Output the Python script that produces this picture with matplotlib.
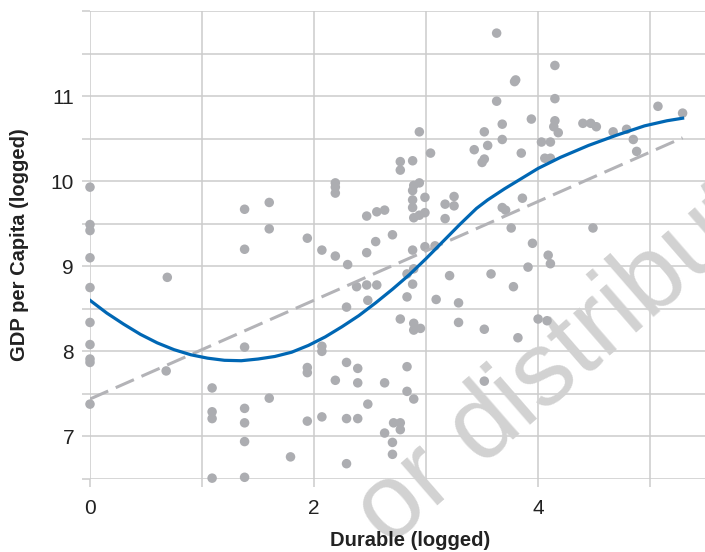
import matplotlib
matplotlib.use("Agg")
import matplotlib.pyplot as plt
import numpy as np

plt.rcParams['font.family'] = ['Liberation Sans', 'DejaVu Sans']

# Scatter data: Durable (logged) vs GDP per Capita (logged)
durable = [
    0, 0, 0, 0, 0, 0, 0, 0, 0, 0,
    0.69, 0.68,
    1.09, 1.09, 1.09, 1.09,
    1.38, 1.38, 1.38, 1.38, 1.38, 1.38, 1.38,
    1.60, 1.60, 1.60,
    1.79,
    1.94, 1.94, 1.94, 1.94,
    2.07, 2.07, 2.07, 2.07,
    2.19, 2.19, 2.19, 2.19, 2.19,
    2.30, 2.29, 2.29, 2.29, 2.29,
    2.38, 2.39, 2.39, 2.39,
    2.47, 2.47, 2.47, 2.48, 2.48,
    2.56, 2.55, 2.56,
    2.63, 2.63, 2.63,
    2.70, 2.70, 2.70,
    2.71,
    2.77, 2.77, 2.77, 2.77, 2.77,
    2.83, 2.83, 2.83, 2.83,
    2.88, 2.89, 2.88, 2.88, 2.88, 2.89, 2.88, 2.89, 2.88, 2.89, 2.89, 2.89,
    2.94, 2.94, 2.94, 2.95,
    2.99, 2.99, 2.99,
    3.04,
    3.08, 3.09,
    3.17, 3.17,
    3.21,
    3.25, 3.25,
    3.29, 3.29,
    3.43,
    3.50, 3.52,
    3.52, 3.55,
    3.52, 3.52,
    3.58,
    3.63, 3.63,
    3.68, 3.68, 3.68, 3.71,
    3.76, 3.78,
    3.79, 3.80,
    3.82,
    3.85, 3.86,
    3.91,
    3.94,
    3.95,
    4.00, 4.08,
    4.03, 4.11, 4.06, 4.11,
    4.09, 4.11,
    4.15, 4.15, 4.15, 4.14, 4.18,
    4.40, 4.47, 4.52,
    4.49,
    4.67, 4.79, 4.85, 4.88,
    5.07, 5.29,
]
gdp = [
    9.93, 9.49, 9.42, 9.10, 8.75, 8.34, 8.08, 7.91, 7.87, 7.38,
    8.87, 7.77,
    7.57, 7.29, 7.21, 6.51,
    9.67, 9.20, 8.05, 7.33, 7.16, 6.94, 6.52,
    9.75, 9.44, 7.45,
    6.76,
    9.33, 7.81, 7.75, 7.18,
    9.19, 8.06, 8.00, 7.23,
    9.98, 9.93, 9.86, 9.12, 7.66,
    9.02, 8.52, 7.87, 7.21, 6.68,
    8.76, 7.80, 7.63, 7.21,
    9.59, 9.16, 8.78, 8.60, 7.38,
    9.64, 9.29, 8.78,
    9.66, 7.63, 7.04,
    9.37, 6.93, 6.79,
    7.16,
    10.23, 10.13, 8.38, 7.16, 7.08,
    8.91, 8.64, 7.82, 7.53,
    10.24, 9.95, 9.89, 9.78, 9.69, 9.57, 9.19, 8.97, 8.79, 8.33, 8.25, 7.44,
    10.58, 9.98, 9.60, 8.27,
    9.81, 9.63, 9.23,
    10.33,
    9.24, 8.61,
    9.73, 9.56,
    8.89,
    9.82, 9.71,
    8.57, 8.34,
    10.37,
    10.22, 10.26,
    10.58, 10.42,
    8.26, 7.65,
    8.91,
    11.74, 10.94,
    10.67, 10.49, 9.69, 9.66,
    9.45, 8.76,
    11.17, 11.19,
    8.16,
    10.33, 9.80,
    8.99,
    10.73,
    9.27,
    8.38, 8.36,
    10.46, 10.46, 10.27, 10.27,
    9.13, 9.03,
    11.36, 10.97, 10.71, 10.64, 10.57,
    10.68, 10.68, 10.64,
    9.45,
    10.58, 10.61, 10.49, 10.35,
    10.88, 10.80,
]

# Linear fit (dashed)
linear_x = [0.0, 5.29]
linear_y = [7.44, 10.51]

# Smooth (loess) curve
smooth_x = [0, 0.15, 0.3, 0.45, 0.6, 0.75, 0.9, 1.05, 1.2, 1.35, 1.5, 1.65,
            1.8, 1.95, 2.1, 2.25, 2.4, 2.55, 2.7, 2.85, 3.0, 3.15, 3.3, 3.45,
            3.55, 3.7, 3.85, 4.0, 4.2, 4.45, 4.7, 4.95, 5.15, 5.29]
smooth_y = [8.60, 8.45, 8.32, 8.20, 8.10, 8.02, 7.96, 7.92, 7.895, 7.89, 7.91, 7.94,
            7.99, 8.07, 8.17, 8.29, 8.42, 8.57, 8.73, 8.90, 9.09, 9.29, 9.49, 9.68,
            9.78, 9.91, 10.03, 10.15, 10.28, 10.42, 10.54, 10.65, 10.71, 10.74]

x_ticks = [0, 1, 2, 3, 4, 5]
x_ticklabels = ['0', '', '2', '', '4', '']
y_ticks = [6.5, 7, 7.5, 8, 8.5, 9, 9.5, 10, 10.5, 11, 11.5, 12]
y_ticklabels = ['', '7', '', '8', '', '9', '', '10', '', '11', '', '']

GRID = '#cccccc'

fig = plt.figure(figsize=(7.05, 5.52), dpi=100)
ax = fig.add_axes([90 / 705, 73 / 552, 615 / 705, 468 / 552])
ax.set_xlim(0, 5.49)
ax.set_ylim(6.5, 12)

for s in ax.spines.values():
    s.set_visible(False)

ax.set_xticks(x_ticks)
ax.set_xticklabels(x_ticklabels)
ax.set_yticks(y_ticks)
ax.set_yticklabels(y_ticklabels)
ax.tick_params(axis='both', length=5.5, width=1.1, color=GRID, labelsize=15,
               labelcolor='#222222', direction='out')
ax.tick_params(axis='x', pad=9)
ax.tick_params(axis='y', pad=6)
ax.grid(True, color=GRID, linewidth=1.1, zorder=0)
ax.set_axisbelow(True)

ax.scatter(durable, gdp, s=47, color='#acadb1', edgecolors='none', zorder=3,
           clip_on=False)
ax.plot(linear_x, linear_y, color='#b3b3b7', linewidth=2.2, dashes=(6.5, 2.7),
        zorder=4, solid_capstyle='butt')
ax.plot(smooth_x, smooth_y, color='#0067b4', linewidth=2.3, zorder=5,
        solid_joinstyle='round')

fig.text(410 / 705, 1 - 540 / 552, 'Durable (logged)', ha='center', va='center',
         fontsize=14.5, fontweight='bold', color='#222222')
fig.text(20 / 705, 1 - 245 / 552, 'GDP per Capita (logged)', ha='center', va='center',
         rotation=90, fontsize=14.5, fontweight='bold', color='#222222')

# Watermark
ax.text(388 / 705, 1 - 548 / 552, 'or distribute', transform=fig.transFigure,
        rotation=41, rotation_mode='anchor', ha='left', va='baseline',
        fontsize=76, color='#d2d2d2', zorder=2, clip_on=False)

fig.savefig('out.png', dpi=100)
